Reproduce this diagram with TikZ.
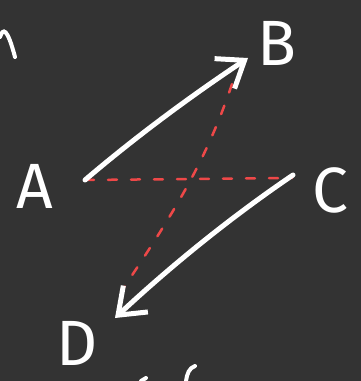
\documentclass[tikz,border=0pt]{standalone}
\usepackage{fontspec}
\setsansfont{Fira Sans}
\definecolor{skbg}{RGB}{51,51,51}
\definecolor{skred}{RGB}{238,72,72}
\definecolor{skwhite}{RGB}{255,255,255}
\usetikzlibrary{arrows.meta,positioning}

\tikzset{
  letter/.style={skwhite,font=\sffamily\fontsize{64}{64}\selectfont,inner sep=0pt,text depth=0pt},
  vec/.style={skwhite,line width=5pt,line cap=round,line join=round,
    -{Straight Barb[length=24pt,width=36pt,line width=5pt]}},
  guide/.style={skred,line width=2.5pt,line cap=round,dash pattern=on 9pt off 14pt},
  scrap/.style={skwhite,line width=4pt,line cap=round}
}

\begin{document}
\begin{tikzpicture}[x=1pt,y=-1pt]
  \fill[skbg] (0,0) rectangle (361,381);
  \useasboundingbox (0,0) rectangle (361,381);
  % letters
  \node[letter] (A) at (35,186) {A};
  \node[letter] (B) at (277,43) {B};
  \node[letter] (C) at (330,190) {C};
  \node[letter] (D) at (77,343) {D};
  % arrow ends
  \coordinate (a) at (85,180);
  \coordinate (b) at (248,58);
  \coordinate (c) at (293,175);
  \coordinate (d) at (115,318);
  \coordinate (bd1) at (232,84);
  \coordinate (bd2) at (121,292);
  \coordinate (ac2) at (292,178);
  % red guides
  \draw[guide] (a) -- (ac2);
  \draw[guide] (bd1) .. controls (205,165) and (170,218) .. (bd2);
  % vectors
  \draw[vec] (a) .. controls (139,134) and (194,94) .. (b);
  \draw[vec] (c) .. controls (234,215) and (174,263) .. (d);
  % cut-off scraps at the edges
  \draw[scrap] (0,37) .. controls (3,28) and (7,27) .. (15,57);
  \draw[scrap] (141,381) -- (146,378);
  \draw[scrap] (195,366) .. controls (189,368) and (187,374) .. (186,381);
\end{tikzpicture}
\end{document}
